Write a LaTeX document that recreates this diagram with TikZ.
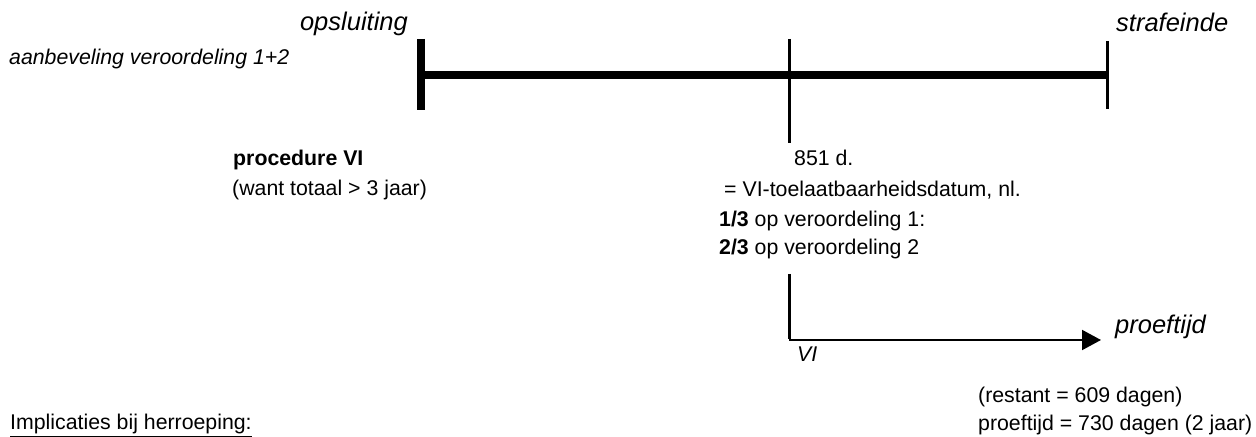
\documentclass[tikz,border=0pt]{standalone}
\usepackage{fontspec}
\setmainfont{Liberation Sans}
\usetikzlibrary{arrows.meta}

\tikzset{
  txt/.style={anchor=base west, inner sep=0pt, font=\fontsize{21.3bp}{25bp}\selectfont},
  head/.style={anchor=base west, inner sep=0pt, font=\fontsize{25.5bp}{30bp}\selectfont\itshape},
  sub/.style={anchor=base west, inner sep=0pt, font=\fontsize{21.3bp}{25bp}\selectfont\itshape},
  bar/.style={line width=8bp},
  tick/.style={line width=3bp},
  thin/.style={line width=2bp}
}

\begin{document}
\begin{tikzpicture}[x=1bp, y=-1bp]
\useasboundingbox (0,0) rectangle (1256,437);

% main time line with its end and mid marks
\coordinate (start) at (421,75);
\coordinate (stop) at (1107,75);
\coordinate (mid) at (789,75);
\coordinate (starttop) at (421,39);
\coordinate (startbot) at (421,110);
\coordinate (stoptop) at (1107,41);
\coordinate (stopbot) at (1107,109);
\coordinate (midtop) at (789,39);
\coordinate (midbot) at (789,143);

\draw[bar] (start) -- (stop);
\draw[bar] (starttop) -- (startbot);
\draw[tick] (stoptop) -- (stopbot);
\draw[tick] (midtop) -- (midbot);

% labels of the time line
\node[head, anchor=base east] (opsl) at (408,31) {opsluiting};
\node[head] (eind) at (1116,32) {strafeinde};
\node[sub] (aanb) at (9,65) {aanbeveling veroordeling 1+2};

% procedure
\node[txt] (proc) at (233,166) {\bfseries procedure VI};
\node[txt] (want) at (232,196) {(want totaal > 3 jaar)};

% admissibility date
\node[txt] (dagen) at (794,166) {851 d.};
\node[txt] (datum) at (724,197) {= VI-toelaatbaarheidsdatum, nl.};
\node[txt] (een) at (719,227) {\textbf{1/3} op veroordeling 1:};
\node[txt] (twee) at (719,255) {\textbf{2/3} op veroordeling 2};

% probation arrow
\coordinate (vitop) at (789,274);
\coordinate (vi) at (789,340);
\coordinate (pend) at (1101,340);
\draw[tick] (vitop) -- ([yshift=1bp]vi);
\draw[thin, -{Triangle[length=19bp, width=20bp]}] (vi) -- (pend);
\node[sub] (vilab) at (797,362) {VI};
\node[head] (proef) at (1115,334) {proeftijd};

% remainder and probation period
\node[txt] (rest) at (978,403) {(restant = 609 dagen)};
\node[txt] (periode) at (978,431) {proeftijd = 730 dagen (2 jaar)};
\node[txt] (impl) at (10,430) {\underline{Implicaties bij herroeping:}};
\end{tikzpicture}
\end{document}
